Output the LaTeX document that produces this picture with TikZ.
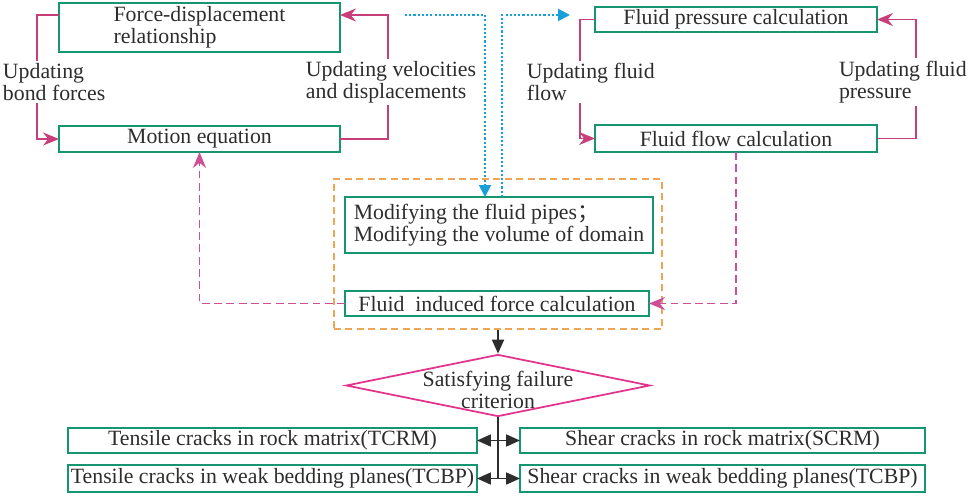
\documentclass[tikz,border=0pt]{standalone}
\usepackage{fontspec}
\setmainfont{Liberation Serif}
\newfontfamily\cjk{Noto Sans CJK SC}
\usetikzlibrary{arrows.meta,shapes.geometric}

\definecolor{boxgreen}{RGB}{22,150,112}
\definecolor{looppink}{RGB}{200,62,122}
\definecolor{feedpink}{RGB}{205,80,150}
\definecolor{critpink}{RGB}{226,52,140}
\definecolor{zoneorange}{RGB}{240,165,85}
\definecolor{pipeblue}{RGB}{22,160,215}
\definecolor{textgray}{RGB}{45,45,45}
\newcommand{\boxfont}{\fontsize{12.4}{12.5}\selectfont}

\tikzset{
	greenbox/.style={draw=boxgreen, line width=1.1pt, inner sep=0pt, outer sep=0pt, text=textgray, font=\boxfont},
	loopnote/.style={fill=white, inner sep=1.5pt, align=left, text=textgray, font=\boxfont, anchor=west},
	looparrow/.style={color=looppink, line width=0.9pt, -{Stealth[length=0.32cm,width=0.26cm]}},
	feedarrow/.style={color=feedpink, line width=1pt, dash pattern=on 4.5pt off 2.5pt, -{Stealth[length=0.32cm,width=0.26cm]}},
	pipearrow/.style={color=pipeblue, line width=1.1pt, dash pattern=on 1.2pt off 1.2pt, -{Triangle[length=0.24cm,width=0.24cm]}},
	zonebox/.style={draw=zoneorange, line width=1.1pt, dash pattern=on 4pt off 2.5pt, inner sep=0pt},
	critbox/.style={diamond, draw=critpink, line width=1pt, inner sep=0pt},
	steparrow/.style={color=textgray, line width=1pt, -{Triangle[length=0.28cm,width=0.24cm]}},
	splitarrow/.style={color=textgray, line width=1pt, {Triangle[length=0.28cm,width=0.24cm]}-{Triangle[length=0.28cm,width=0.24cm]}}
}

\begin{document}
\begin{tikzpicture}[x=0.02cm, y=-0.02cm]
		%%%%% START %%%%%
		\useasboundingbox (0,0) rectangle (969,496);
		
		% particle loop
		\node[greenbox, minimum width=5.62cm, minimum height=0.98cm, align=left] (fdrel) at (199.5,27.5) {Force-displacement\\relationship};
		\node[greenbox, minimum width=5.62cm, minimum height=0.52cm] (motion) at (199.5,139) {Motion equation};
		\draw[looparrow] ([yshift=0.25cm]fdrel.west) -- ++(-0.44cm,0) |- (motion.west);
		\draw[looparrow] (motion.east) -- ++(0.96cm,0) |- ([yshift=0.25cm]fdrel.east);
		\node[loopnote] (bondnote) at (0,82) {Updating\\bond forces};
		\node[loopnote] (velnote) at (303,82) {Updating velocities\\and displacements};
		
		% fluid loop
		\node[greenbox, minimum width=5.64cm, minimum height=0.5cm] (fpress) at (736,19.5) {Fluid pressure calculation};
		\node[greenbox, minimum width=5.64cm, minimum height=0.54cm] (fflow) at (736,138.5) {Fluid flow calculation};
		\draw[looparrow] (fpress.west) -- ++(-0.3cm,0) |- (fflow.west);
		\draw[looparrow] (fflow.east) -- ++(0.78cm,0) |- (fpress.east);
		\node[loopnote] (flownote) at (524,82) {Updating fluid\\flow};
		\node[loopnote] (presnote) at (836,82) {Updating fluid\\pressure};
		
		% coupling zone
		\node[zonebox, minimum width=6.56cm, minimum height=3.0cm] (fluidzone) at (498,254) {};
		\node[greenbox, minimum width=6.16cm, minimum height=1.12cm, align=left] (modify) at (499,225) {Modifying the fluid pipes{\cjk ；}\\Modifying the volume of domain};
		\node[greenbox, minimum width=6.08cm, minimum height=0.5cm] (fif) at (497,303.5) {Fluid~ induced force calculation};
		
		\coordinate (pipestart) at (405,15);
		\coordinate (pipeend) at (570,15);
		\draw[pipearrow] (pipestart) -| ([xshift=-0.28cm]modify.north);
		\draw[pipearrow] ([xshift=0.06cm]modify.north) |- (pipeend);
		
		\draw[feedarrow] (fflow.south) |- (fif.east);
		\draw[feedarrow] (fif.west) -| (motion.south);
		
		% failure check
		\node[critbox, minimum width=6.08cm, minimum height=1.24cm] (crit) at (498,385.5) {};
		\node[text=textgray, font=\boxfont, align=center] (critnote) at (498,390) {Satisfying failure\\criterion};
		\draw[steparrow] (fluidzone.south) -- (crit.north);
		
		\node[greenbox, minimum width=8.18cm, minimum height=0.5cm] (tcrm) at (272.5,440.5) {Tensile cracks in rock matrix(TCRM)};
		\node[greenbox, minimum width=8.1cm, minimum height=0.5cm] (scrm) at (722.5,440.5) {Shear cracks in rock matrix(SCRM)};
		\node[greenbox, minimum width=8.18cm, minimum height=0.54cm] (tcbp) at (272.5,478.5) {Tensile cracks in weak bedding planes(TCBP)};
		\node[greenbox, minimum width=8.1cm, minimum height=0.54cm] (scbp) at (722.5,478.5) {Shear cracks in weak bedding planes(TCBP)};
		
		\draw[color=textgray, line width=1pt] (crit.south) -- (crit.south |- tcbp.east);
		\draw[splitarrow] (tcrm.east) -- (scrm.west);
		\draw[splitarrow] (tcbp.east) -- (scbp.west);
		
		%%%%% END %%%%%
\end{tikzpicture}
\end{document}
